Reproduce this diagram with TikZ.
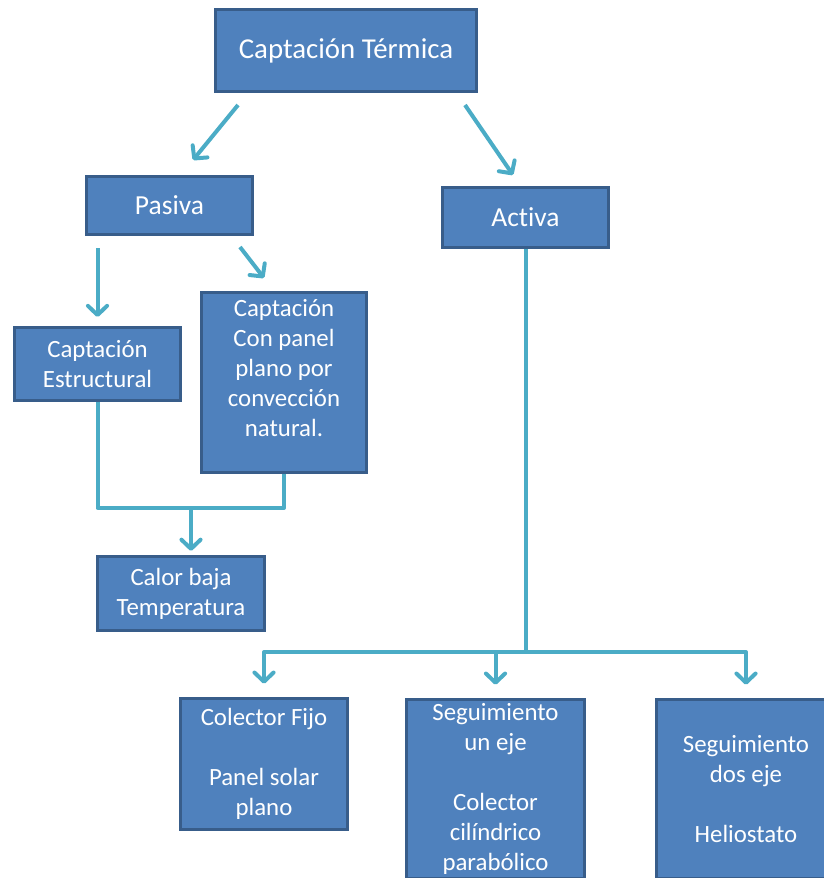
\documentclass[tikz,border=0pt]{standalone}
\usepackage{fontspec}
\setmainfont{Carlito}[Ligatures=NoCommon]
\usetikzlibrary{arrows.meta,calc,shadows}

\definecolor{boxfill}{HTML}{4F81BD}
\definecolor{boxline}{HTML}{385D8A}
\definecolor{arrline}{HTML}{4BACC6}

\tikzset{
  caja/.style={draw=boxline, fill=boxfill, line width=1.8pt, text=white,
    align=center, inner sep=2pt, font=\fontsize{14.9}{18}\selectfont,
    drop shadow={shadow xshift=0.8pt, shadow yshift=-0.8pt, opacity=0.3}},
  linea/.style={draw=arrline, line width=2.4pt, line join=round},
  flecha/.style={linea, -{Straight Barb[length=5.5pt,width=11.5pt,round]}},
}

\begin{document}
\begin{tikzpicture}[x=0.6pt, y=-0.6pt]
     \useasboundingbox (0,0) rectangle (824,878);
     % cajas
     \node[caja, minimum width=156.6pt, minimum height=49.2pt, font=\fontsize{17.3}{20}\selectfont] (ct) at (346,50.5) {Captación Térmica};
     \node[caja, minimum width=99.6pt, minimum height=34.8pt, font=\fontsize{16.5}{20}\selectfont] (pa) at (169.5,205.5) {Pasiva};
     \node[caja, minimum width=99.6pt, minimum height=36pt, font=\fontsize{16.5}{20}\selectfont] (ac) at (525.5,217.5) {Activa};
     \node[caja, minimum width=99.6pt, minimum height=43.8pt] (ce) at (97.5,364) {Captación\\Estructural};
     \node[caja, minimum width=99pt, minimum height=108pt] (cp) at (284,382.5) {Captación\\Con panel\\plano por\\convección\\natural.\\~};
     \node[caja, minimum width=100.2pt, minimum height=44.4pt] (cb) at (181,593.5) {Calor baja\\Temperatura};
     \node[caja, minimum width=100.2pt, minimum height=78.6pt] (cf) at (264,764) {Colector Fijo\\~\\Panel solar\\plano};
     \node[caja, minimum width=106.8pt, minimum height=107.4pt] (s1) at (495.5,789) {Seguimiento\\un eje\\~\\Colector\\cilíndrico\\parabólico};
     \node[caja, minimum width=107.4pt, minimum height=107.4pt] (s2) at (746,789) {Seguimiento\\dos eje\\~\\Heliostato};

     % flechas
     \draw[flecha] ($(ct.south west)+(24,12)$) -- ($(pa.north)+(23.5,-15)$);
     \draw[flecha] ($(ct.south east)+(-13,12)$) -- ($(ac.north)+(-12.5,-11)$);
     \draw[flecha] ($(ce.north |- pa.south)+(0,12)$) -- ($(ce.north)+(0,-9)$);
     \draw[flecha] ($(pa.south east)+(-14,11)$) -- ($(cp.north)+(-20,-13)$);

     \coordinate (jp) at ($(cb.north)+(10,-47)$);
     \draw[linea] (ce.south) |- (jp) -| (cp.south);
     \draw[flecha, shorten >=2.5pt] (jp) -- (jp |- cb.north);

     \coordinate (ja) at ($(ac.south)+(0,403)$);
     \draw[linea] (ac.south) -- (ja);
     \foreach \n in {cf,s1,s2}
       \draw[flecha, shorten >=8pt] (ja) -| (\n.north);
    \end{tikzpicture}
\end{document}
